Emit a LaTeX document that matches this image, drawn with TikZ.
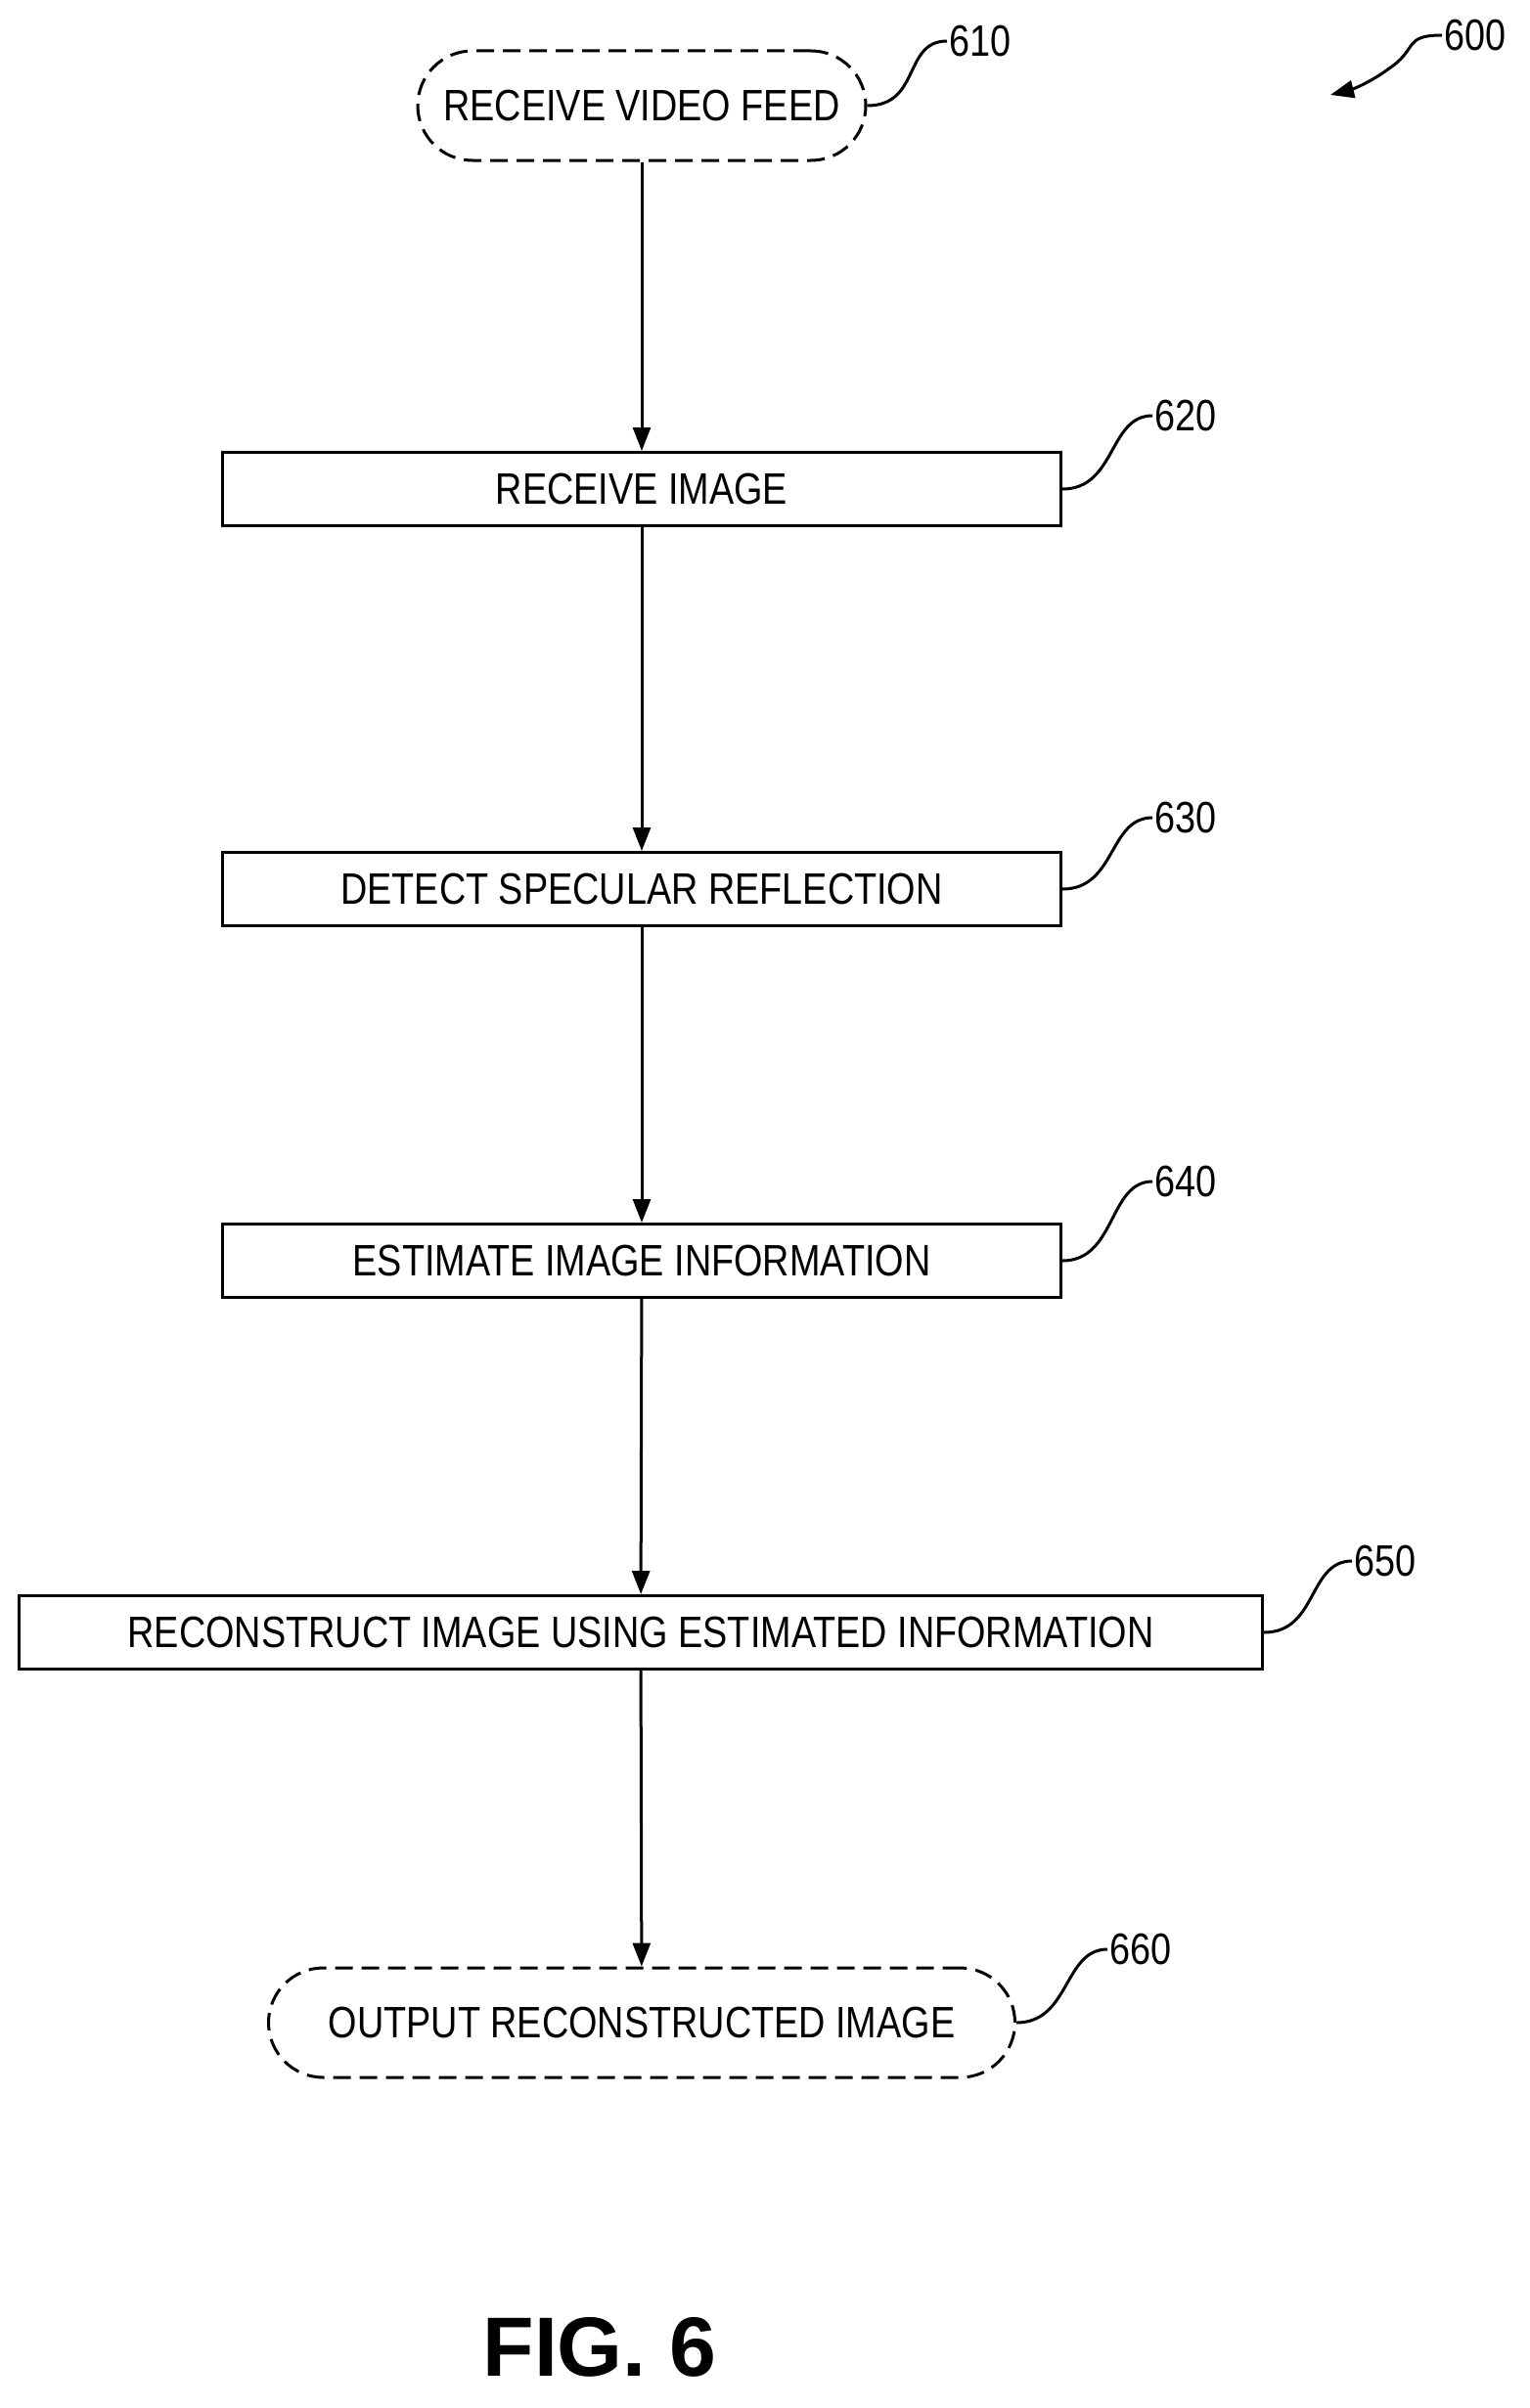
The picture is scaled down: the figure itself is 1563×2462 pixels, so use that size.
\documentclass[tikz,border=0pt]{standalone}
\usepackage{fontspec}
\newfontfamily\nar[FakeStretch=0.84]{Liberation Sans}
\newfontfamily\figf{Liberation Sans}
\usetikzlibrary{arrows.meta}
\begin{document}
\begin{tikzpicture}[x=1pt,y=-1pt,
  box/.style={draw,line width=3pt,minimum height=75pt,font=\nar\fontsize{45}{50}\selectfont,inner sep=0},
  term/.style={draw,line width=3pt,dash pattern=on 18pt off 9pt,rounded corners=56pt,minimum height=112pt,font=\nar\fontsize{45}{50}\selectfont,inner sep=0},
  lab/.style={font=\nar\fontsize{45}{50}\selectfont,anchor=west,inner sep=2pt},
  arr/.style={line width=3pt,-{Triangle[length=24pt,width=18pt]}},
  lead/.style={line width=3pt}]
\useasboundingbox (0,0) rectangle (1563,2462);
\node[term,minimum width=458pt] (n610) at (656,108) {RECEIVE VIDEO FEED};
\node[box,minimum width=857pt] (n620) at (656,500) {RECEIVE IMAGE};
\node[box,minimum width=857pt] (n630) at (656,909) {DETECT SPECULAR REFLECTION};
\node[box,minimum width=857pt] (n640) at (656,1289) {ESTIMATE IMAGE INFORMATION};
\node[box,minimum width=1271pt] (n650) at (655,1669) {RECONSTRUCT IMAGE USING ESTIMATED INFORMATION};
\node[term,minimum width=763pt] (n660) at (656,2068) {OUTPUT RECONSTRUCTED IMAGE};
\draw[arr] (n610) -- (n620);
\draw[arr] (n620) -- (n630);
\draw[arr] (n630) -- (n640);
\draw[arr] (n640) -- (n650);
\draw[arr] (n650) -- (n660);
\node[lab] (l610) at (968,42) {610};
\node[lab] (l620) at (1178,425) {620};
\node[lab] (l630) at (1178,836) {630};
\node[lab] (l640) at (1178,1208) {640};
\node[lab] (l650) at (1382,1596) {650};
\node[lab] (l660) at (1132,1993) {660};
\node[lab] (l600) at (1474,36) {600};
\foreach \b in {610,620,630,640,650,660}
  \draw[lead] (n\b.east) .. controls +(55,0) and +(-45,0) .. (l\b.west);
\coordinate (t600) at (1360,97);
\draw[line width=3pt,-{Triangle[length=24pt,width=18pt]}] (l600.west) .. controls +(-40,0) and +(30,-20) .. (1420,70) .. controls +(-20,15) and +(20,-5) .. (t600);
\node[font=\figf\bfseries\fontsize{86}{90}\selectfont] (fig) at (613,2400) {FIG. 6};
\end{tikzpicture}
\end{document}
